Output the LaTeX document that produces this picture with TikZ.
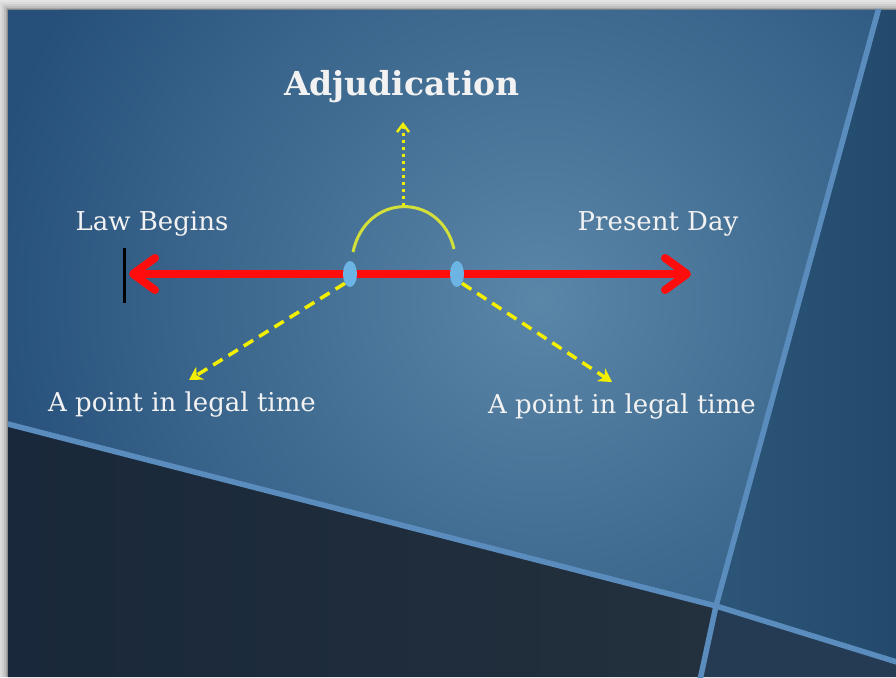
\documentclass[tikz,border=0pt]{standalone}
\usepackage{fontspec}
\usetikzlibrary{arrows.meta,shapes.geometric}
\newfontfamily\slab{DejaVu Serif}
\definecolor{frame}{HTML}{E4E4E4}
\definecolor{mainout}{HTML}{26507A}
\definecolor{mainin}{HTML}{5A86A8}
\definecolor{rightp}{HTML}{234A6C}
\definecolor{rightin}{HTML}{2D5679}
\definecolor{darkp}{HTML}{19283A}
\definecolor{darkin}{HTML}{23303D}
\definecolor{brp}{HTML}{253B54}
\definecolor{divider}{HTML}{5A8DBE}
\definecolor{timeline}{HTML}{FF0D0D}
\definecolor{dotblue}{HTML}{6CB4E4}
\definecolor{arcyel}{HTML}{D4E03A}
\definecolor{yel}{HTML}{F2F000}
\definecolor{txt}{HTML}{F2F2F2}
\tikzset{
  lbl/.style={text=txt, font=\slab\fontsize{26}{30}\selectfont, inner sep=0pt},
  titlelbl/.style={text=txt, font=\slab\bfseries\fontsize{33}{38}\selectfont, inner sep=0pt},
  redline/.style={draw=timeline, line width=8pt, line cap=round},
  pointdot/.style={ellipse, fill=dotblue, minimum width=14pt, minimum height=26pt, inner sep=0pt},
  yeldash/.style={draw=yel, line width=3.5pt, dash pattern=on 11pt off 7pt},
  yeldot/.style={draw=yel!90!arcyel, line width=3pt, dash pattern=on 3pt off 4pt},
}
\begin{document}
\begin{tikzpicture}[x=1pt,y=-1pt]
\useasboundingbox (0,0) rectangle (896,677);
% frame and shadow
\fill[frame] (0,0) rectangle (896,677);
\foreach \o/\a in {8/0.04,6/0.05,4/0.08,2/0.12,1/0.15}{
  \fill[black,opacity=\a] (8-\o,10-\o) rectangle (896,677);
}
\begin{scope}
\clip (8,10) rectangle (896,677);
% main panel
\begin{scope}
\clip (8,10) -- (880,10) -- (716,606) -- (8,424) -- cycle;
\fill[mainout] (0,0) rectangle (896,677);
\shade[inner color=mainin, outer color=mainout] (540,300) circle (560);
\end{scope}
% right panel
\begin{scope}
\clip (880,10) -- (896,10) -- (896,662) -- (716,606) -- cycle;
\shade[left color=rightin, right color=rightp] (700,0) rectangle (896,677);
\end{scope}
% bottom-left dark panel
\begin{scope}
\clip (8,424) -- (716,606) -- (702,677) -- (8,677) -- cycle;
\shade[left color=darkp, right color=darkin] (8,400) rectangle (716,677);
\end{scope}
% bottom-right small panel
\fill[brp] (716,606) -- (896,662) -- (896,677) -- (702,677) -- cycle;
% dividers
\draw[divider, line width=5.5pt] (0,422) -- (716,606) -- (900,663);
\draw[divider, line width=5.5pt] (881,0) -- (716,606) -- (700,680);
\end{scope}
% timeline
\coordinate (tl) at (129,274);
\coordinate (tr) at (691,274);
\coordinate (tickt) at (124,248);
\coordinate (tickb) at (124,303);
\draw[black, line width=3pt] (tickt) -- (tickb);
\draw[redline, {Straight Barb[length=22pt,width=32pt,line cap=round,line join=round]}-{Straight Barb[length=22pt,width=32pt,line cap=round,line join=round]}] (tl) -- (tr);
\node[pointdot] (d1) at (350,274) {};
\node[pointdot] (d2) at (457,274) {};
% labels
\node[titlelbl] (adj) at (402,87) {Adjudication};
\node[lbl] (law) at (152,224) {Law Begins};
\node[lbl] (pres) at (658,224) {Present Day};
\node[lbl] (pl) at (182,405) {A point in legal time};
\node[lbl] (pr) at (622,407) {A point in legal time};
% arc and arrows
\coordinate (arcl) at (353,252);
\coordinate (arcr) at (454,249);
\coordinate (arctop) at (403,206);
\coordinate (adjtip) at (403,122);
\coordinate (tipl) at (189,380);
\coordinate (tipr) at (612,382);
\draw[arcyel, line width=3pt] (arcl) .. controls (366,192) and (441,192) .. (arcr);
\draw[yeldot, -{Straight Barb[length=8pt,width=12pt,line width=2.5pt]}] (arctop) -- (adjtip);
\draw[yeldash, -{Stealth[length=13pt,width=15pt,inset=4pt]}] (d1.south west) -- (tipl);
\draw[yeldash, -{Stealth[length=13pt,width=15pt,inset=4pt]}] (d2.south east) -- (tipr);
\end{tikzpicture}
\end{document}
